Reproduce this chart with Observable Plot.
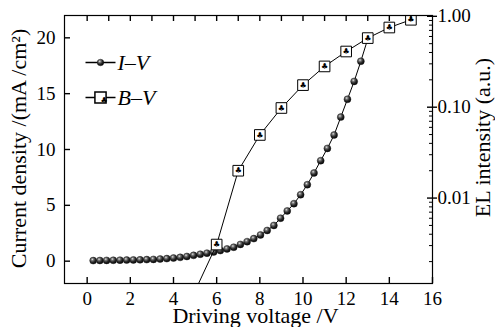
<!DOCTYPE html>
<html><head><meta charset="utf-8">
<script src="https://cdn.jsdelivr.net/npm/d3@7"></script>
<script src="https://cdn.jsdelivr.net/npm/@observablehq/plot@0.6"></script>
<style>body{margin:0;background:#fff}</style>
</head><body><div id="chart"></div>
<script>
// I–V data (left axis)
const ivVoltage = [0.28, 0.59, 0.90, 1.21, 1.52, 1.83, 2.14, 2.45, 2.76, 3.07, 3.38, 3.69, 4.00, 4.31, 4.62, 4.93, 5.24, 5.55, 5.86, 6.17, 6.48, 6.79, 7.10, 7.41, 7.72, 8.03, 8.34, 8.65, 8.96, 9.27, 9.58, 9.89, 10.20, 10.51, 10.82, 11.13, 11.44, 11.75, 12.06, 12.37, 12.68, 13.0];
const ivCurrent = [0.05, 0.06, 0.07, 0.08, 0.09, 0.10, 0.11, 0.12, 0.14, 0.16, 0.19, 0.23, 0.28, 0.34, 0.42, 0.52, 0.62, 0.72, 0.82, 0.95, 1.1, 1.25, 1.5, 1.75, 2.02, 2.35, 2.75, 3.2, 3.85, 4.5, 5.15, 5.95, 6.85, 7.9, 9.0, 10.1, 11.3, 12.9, 14.5, 16.1, 17.9, 19.9];
// B–V data (right log axis)
const bvVoltage = [5, 6, 7, 8, 9, 10, 11, 12, 13, 14, 15];
const bvIntensity = [0.00095, 0.00308, 0.020, 0.0495, 0.098, 0.175, 0.281, 0.41, 0.576, 0.753, 0.916];
// ticks
const xTicks = [0, 2, 4, 6, 8, 10, 12, 14, 16];
const xTopTicks = [0, 1, 2, 3, 4, 5, 6, 7, 8, 9, 10, 11, 12, 13, 14, 15];
const yLeftTicks = [0, 5, 10, 15, 20];
const yRightTicks = [0.01, 0.1, 1];
const yRightLabels = ["0.01", "0.10", "1.00"];
const yRightMinor = [0.002, 0.003, 0.004, 0.005, 0.006, 0.007, 0.008, 0.009, 0.02, 0.03, 0.04, 0.05, 0.06, 0.07, 0.08, 0.09, 0.2, 0.3, 0.4, 0.5, 0.6, 0.7, 0.8, 0.9];

const xDomain = [-1.05, 16];
const yDomain = [-2, 22];
const logDomain = [Math.pow(10, -2.94), Math.pow(10, 0.009)];
const L0 = Math.log10(logDomain[0]), L1 = Math.log10(logDomain[1]);
const toLeft = v => yDomain[0] + (Math.log10(v) - L0) / (L1 - L0) * (yDomain[1] - yDomain[0]);

const iv = ivVoltage.map((V, i) => ({V, J: ivCurrent[i]}));
const bv = bvVoltage.map((V, i) => ({V, Y: toLeft(bvIntensity[i])}));
const rightPos = yRightTicks.map(toLeft);
const rightMinorPos = yRightMinor.map(toLeft);
const rightTickData = rightPos.map((p, i) => ({p, label: yRightLabels[i]}));

const W = 495, H = 327, mL = 64, mR = 63, mT = 15, mB = 44;
// one pixel expressed in scale units (for inward tick lengths)
const pxX = (xDomain[1] - xDomain[0]) / (W - mL - mR);
const pxY = (yDomain[1] - yDomain[0]) / (H - mT - mB);
const serif = "Liberation Serif";
const tickFs = 19, titleFs = 22;
const tw = 1.4;
const dash = {draw(ctx) { ctx.moveTo(-15, 0); ctx.lineTo(15, 0); }};

const defs = () => {
  const ns = "http://www.w3.org/2000/svg";
  const d = document.createElementNS(ns, "defs");
  const g = document.createElementNS(ns, "radialGradient");
  g.setAttribute("id", "ball");
  g.setAttribute("cx", "0.38"); g.setAttribute("cy", "0.33"); g.setAttribute("r", "0.68");
  [["0", "#e6e6e6"], ["0.25", "#7a7a7a"], ["0.6", "#2a2a2a"], ["1", "#050505"]].forEach(([o, c]) => {
    const s = document.createElementNS(ns, "stop");
    s.setAttribute("offset", o); s.setAttribute("stop-color", c);
    g.appendChild(s);
  });
  d.appendChild(g);
  return d;
};

const noText = () => "";

const plot = Plot.plot({
  width: W, height: H,
  marginLeft: mL, marginRight: mR, marginTop: mT, marginBottom: mB,
  style: {fontFamily: serif, fontSize: tickFs + "px", background: "white", color: "black"},
  x: {domain: xDomain, label: null, axis: null},
  y: {domain: yDomain, label: null},
  marks: [
    defs,
    Plot.line(iv, {x: "V", y: "J", stroke: "black", strokeWidth: 1}),
    Plot.dot(iv, {x: "V", y: "J", r: 3.5, fill: "url(#ball)", stroke: "#111", strokeWidth: 0.4}),
    Plot.line(bv, {x: "V", y: "Y", stroke: "black", strokeWidth: 1, clip: true}),
    Plot.dot(bv, {x: "V", y: "Y", symbol: "square", r: 6, fill: "white", stroke: "black", strokeWidth: 1, clip: true}),
    Plot.text(bv, {x: "V", y: "Y", text: () => "♣", fontSize: 8, fontFamily: "DejaVu Sans", clip: true}),
    Plot.frame({stroke: "black", strokeWidth: 1.2}),
    // inward ticks
    Plot.ruleX(xTicks, {x: d => d, y1: yDomain[0], y2: yDomain[0] + 6 * pxY, stroke: "black", strokeWidth: tw}),
    Plot.ruleX(xTopTicks, {x: d => d, y1: yDomain[1] - 6 * pxY, y2: yDomain[1], stroke: "black", strokeWidth: tw}),
    Plot.ruleY(yLeftTicks, {y: d => d, x1: xDomain[0], x2: xDomain[0] + 6 * pxX, stroke: "black", strokeWidth: tw}),
    Plot.ruleY(rightPos, {y: d => d, x1: xDomain[1] - 5 * pxX, x2: xDomain[1], stroke: "black", strokeWidth: tw}),
    Plot.ruleY(rightMinorPos, {y: d => d, x1: xDomain[1] - 3 * pxX, x2: xDomain[1], stroke: "black", strokeWidth: 1}),
    // outward right major ticks
    Plot.axisY({anchor: "right", ticks: rightPos, tickSize: 4, strokeWidth: tw, tickFormat: noText, label: null, stroke: "black"}),
    // tick labels as text marks
    Plot.text(xTicks, {x: d => d, frameAnchor: "bottom", dy: 7.5, lineAnchor: "top", textAnchor: "middle", text: d => String(d), fontSize: tickFs, fontFamily: serif}),
    Plot.text(yLeftTicks, {y: d => d, frameAnchor: "left", dx: -9, lineAnchor: "middle", textAnchor: "end", text: d => String(d), fontSize: tickFs, fontFamily: serif}),
    Plot.text(rightTickData, {y: "p", frameAnchor: "right", dx: 5, lineAnchor: "middle", textAnchor: "start", text: "label", fontSize: tickFs, fontFamily: serif}),
    // legend
    Plot.dot([0], {frameAnchor: "top-left", dx: 36, dy: 47, symbol: dash, r: 1, stroke: "black"}),
    Plot.dot([0], {frameAnchor: "top-left", dx: 36, dy: 47, r: 3.3, fill: "url(#ball)", stroke: "#111", strokeWidth: 0.4}),
    Plot.text(["I–V"], {frameAnchor: "top-left", dx: 53, dy: 47, text: d => d, fontStyle: "italic", textAnchor: "start", lineAnchor: "middle", fontSize: titleFs, fontFamily: serif}),
    Plot.dot([0], {frameAnchor: "top-left", dx: 36, dy: 82, symbol: dash, r: 1, stroke: "black"}),
    Plot.dot([0], {frameAnchor: "top-left", dx: 36, dy: 82, symbol: "square", r: 6.3, fill: "white", stroke: "black"}),
    Plot.text(["♣"], {frameAnchor: "top-left", dx: 36, dy: 82, text: d => d, fontSize: 8, fontFamily: "DejaVu Sans"}),
    Plot.text(["B–V"], {frameAnchor: "top-left", dx: 53, dy: 82, text: d => d, fontStyle: "italic", textAnchor: "start", lineAnchor: "middle", fontSize: titleFs, fontFamily: serif}),
    // axis titles
    Plot.text(["Driving voltage /V"], {frameAnchor: "bottom", dx: 7, dy: 32.5, text: d => d, textAnchor: "middle", lineAnchor: "middle", fontSize: titleFs, fontFamily: serif}),
    Plot.text(["Current density /(mA /cm²)"], {frameAnchor: "left", dx: -46, dy: -1, rotate: -90, text: d => d, textAnchor: "middle", lineAnchor: "middle", fontSize: titleFs, fontFamily: serif}),
    Plot.text(["EL intensity (a.u.)"], {frameAnchor: "right", dx: 50, dy: -12, rotate: -90, text: d => d, textAnchor: "middle", lineAnchor: "middle", fontSize: titleFs, fontFamily: serif})
  ]
});
document.getElementById("chart").appendChild(plot);
</script>
</body></html>
